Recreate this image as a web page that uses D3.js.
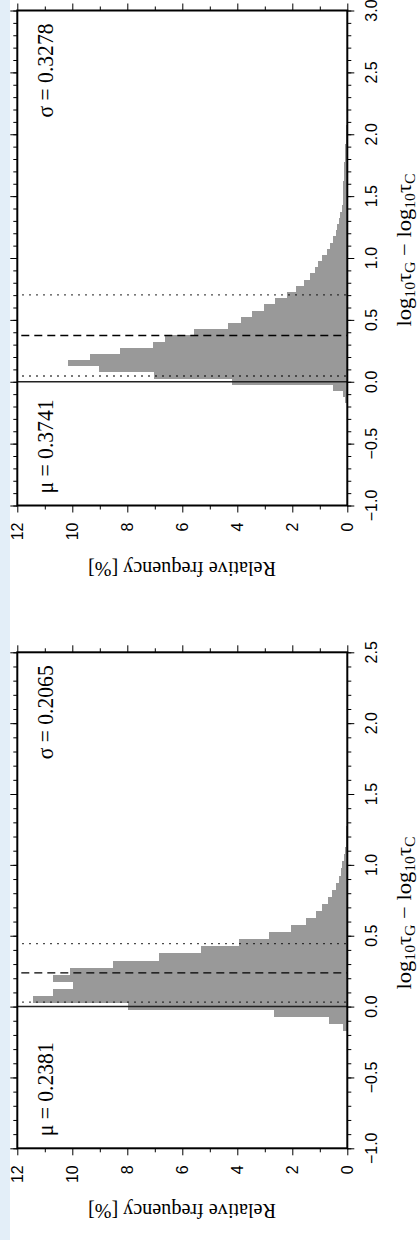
<!DOCTYPE html>
<meta charset="utf-8">
<head>
    <script src="https://cdn.jsdelivr.net/npm/d3@7"></script>
    <style>
        body { margin: 0; background: white; }
    </style>
</head>
<body>
<script type="text/javascript">

    // histogram data, bins 0.05 wide, first bin centred on binStart
    var binWidth = 0.05;

    var binStartTop = -0.15;
    var freqTop = [0.08, 0.15, 0.53, 4.18, 7.02, 9.02, 10.14, 9.36, 8.27, 7.08,
        6.63, 5.57, 4.35, 3.87, 3.48, 3.02, 2.62, 2.18, 1.88, 1.59,
        1.36, 1.17, 1.07, 0.92, 0.75, 0.63, 0.51, 0.42, 0.36, 0.30,
        0.25, 0.20, 0.17, 0.16, 0.15, 0.14, 0.13, 0.12, 0.11, 0.10,
        0.09, 0.08, 0.06, 0.05, 0.03];
    var muTop = 0.3741;
    var sigmaTop = 0.3278;
    var domainTop = [-1, 3];

    var binStartBottom = -0.15;
    var freqBottom = [0.15, 0.65, 2.65, 7.96, 11.42, 10.71, 9.99, 10.71, 10.10, 8.53,
        6.84, 5.32, 3.93, 2.84, 2.03, 1.50, 1.15, 0.91, 0.71, 0.54,
        0.41, 0.31, 0.24, 0.18, 0.12, 0.08, 0.06, 0.04, 0.03, 0.02];
    var muBottom = 0.2381;
    var sigmaBottom = 0.2065;
    var domainBottom = [-1, 2.5];

    var freqDomain = [0, 12];
    var freqMajor = [0, 2, 4, 6, 8, 10, 12];
    var freqMinor = [1, 3, 5, 7, 9, 11];

    var width = 417;
    var height = 1240;
    var sansFont = "'Liberation Sans', Arial, Helvetica, sans-serif";
    var serifFont = "'Liberation Serif', 'Times New Roman', Times, serif";

    var svg = d3.select("body")
        .append("svg")
        .attr("width", width)
        .attr("height", height);

    // light blue strip on the left edge
    svg.append("rect")
        .attr("x", 0)
        .attr("y", 0)
        .attr("width", 10)
        .attr("height", height)
        .attr("fill", "#e3eef8");

    var frameLeft = 17.3;
    var frameRight = 347.3;

    var panels = [
        {top: 10.5, bottom: 505.5, domain: domainTop, start: binStartTop, freq: freqTop,
            mu: muTop, sigma: sigmaTop, labelY: 250},
        {top: 652.3, bottom: 1148.3, domain: domainBottom, start: binStartBottom, freq: freqBottom,
            mu: muBottom, sigma: sigmaBottom, labelY: 913}
    ];

    panels.forEach(drawPanel);

    function drawPanel(p) {
        // log-ratio axis runs bottom -> top, frequency runs right -> left
        var y = d3.scaleLinear().domain(p.domain).range([p.bottom, p.top]);
        var x = d3.scaleLinear().domain(freqDomain).range([frameRight, frameLeft]);

        var g = svg.append("g");

        var bins = p.freq.map(function (f, i) {
            var c = p.start + i * binWidth;
            return {x0: c - binWidth / 2, x1: c + binWidth / 2, f: f};
        });

        // bars
        g.append("g")
            .selectAll("rect")
            .data(bins)
            .enter()
            .append("rect")
            .attr("x", function (d) { return x(d.f); })
            .attr("y", function (d) { return y(d.x1); })
            .attr("width", function (d) { return x(0) - x(d.f); })
            .attr("height", function (d) { return y(d.x0) - y(d.x1); })
            .attr("fill", "#999999")
            .attr("shape-rendering", "crispEdges");

        // zero line
        g.append("line")
            .attr("x1", frameLeft).attr("x2", frameRight)
            .attr("y1", y(0)).attr("y2", y(0))
            .attr("stroke", "#222")
            .attr("stroke-width", 1.5);

        // mean (dashed) and mean +- sigma (dotted)
        g.append("line")
            .attr("x1", frameLeft + 4).attr("x2", frameRight)
            .attr("y1", y(p.mu)).attr("y2", y(p.mu))
            .attr("stroke", "black")
            .attr("stroke-width", 1.4)
            .attr("stroke-dasharray", "8,5");

        [p.mu - p.sigma, p.mu + p.sigma].forEach(function (v) {
            g.append("line")
                .attr("x1", frameLeft + 5).attr("x2", frameRight)
                .attr("y1", y(v)).attr("y2", y(v))
                .attr("stroke", "black")
                .attr("stroke-width", 1.4)
                .attr("stroke-dasharray", "1.4,5.6");
        });

        // ticks on all four sides
        var major = d3.range(p.domain[0], p.domain[1] + 0.001, 0.5);
        var minor = d3.range(p.domain[0], p.domain[1] + 0.001, 0.1);

        g.append("g")
            .attr("transform", "translate(" + frameLeft + ",0)")
            .call(d3.axisLeft(y).tickValues(minor).tickSize(4).tickFormat(""));
        g.append("g")
            .attr("transform", "translate(" + frameLeft + ",0)")
            .call(d3.axisLeft(y).tickValues(major).tickSize(7).tickFormat(""));
        g.append("g")
            .attr("transform", "translate(" + frameRight + ",0)")
            .call(d3.axisRight(y).tickValues(minor).tickSize(4).tickFormat(""));
        g.append("g")
            .attr("transform", "translate(" + frameRight + ",0)")
            .call(d3.axisRight(y).tickValues(major).tickSize(7).tickFormat(""));

        g.append("g")
            .attr("transform", "translate(0," + p.top + ")")
            .call(d3.axisTop(x).tickValues(freqMinor).tickSize(4).tickFormat(""));
        g.append("g")
            .attr("transform", "translate(0," + p.top + ")")
            .call(d3.axisTop(x).tickValues(freqMajor).tickSize(7).tickFormat(""));
        g.append("g")
            .attr("transform", "translate(0," + p.bottom + ")")
            .call(d3.axisBottom(x).tickValues(freqMinor).tickSize(4).tickFormat(""));
        g.append("g")
            .attr("transform", "translate(0," + p.bottom + ")")
            .call(d3.axisBottom(x).tickValues(freqMajor).tickSize(7).tickFormat(""));

        g.selectAll(".domain").remove();
        g.selectAll(".tick line").attr("stroke", "black").attr("stroke-width", 1);

        // frame
        g.append("rect")
            .attr("x", frameLeft)
            .attr("y", p.top)
            .attr("width", frameRight - frameLeft)
            .attr("height", p.bottom - p.top)
            .attr("fill", "none")
            .attr("stroke", "black")
            .attr("stroke-width", 2);

        // tick labels, rotated like the rest of the figure
        var fmt = d3.format(".1f");
        g.selectAll(".ylab")
            .data(major)
            .enter()
            .append("text")
            .attr("font-family", sansFont)
            .attr("font-size", "16px")
            .attr("text-anchor", "middle")
            .attr("transform", function (d) {
                return "translate(377," + y(d) + ") rotate(-90)";
            })
            .text(function (d) { return fmt(d); });

        g.selectAll(".xlab")
            .data(freqMajor)
            .enter()
            .append("text")
            .attr("font-family", sansFont)
            .attr("font-size", "16px")
            .attr("text-anchor", "end")
            .attr("dy", "0.35em")
            .attr("transform", function (d) {
                return "translate(" + x(d) + "," + (p.bottom + 17) + ") rotate(-90)";
            })
            .text(function (d) { return d; });

        // mu / sigma annotations
        g.append("text")
            .attr("font-family", serifFont)
            .attr("font-size", "24px")
            .attr("text-anchor", "start")
            .attr("textLength", 94)
            .attr("lengthAdjust", "spacingAndGlyphs")
            .attr("transform", "translate(53," + (p.bottom - 12) + ") rotate(-90)")
            .text("\u03bc = " + p.mu.toFixed(4));

        g.append("text")
            .attr("font-family", serifFont)
            .attr("font-size", "24px")
            .attr("text-anchor", "end")
            .attr("textLength", 94)
            .attr("lengthAdjust", "spacingAndGlyphs")
            .attr("transform", "translate(53," + (p.top + 13) + ") rotate(-90)")
            .text("\u03c3 = " + p.sigma.toFixed(4));

        // axis titles
        g.append("text")
            .attr("font-family", serifFont)
            .attr("font-size", "20px")
            .attr("text-anchor", "middle")
            .attr("textLength", 188)
            .attr("lengthAdjust", "spacingAndGlyphs")
            .attr("transform", "translate(182," + (p.bottom + 56) + ") rotate(180)")
            .text("Relative frequency [%]");

        var xl = g.append("text")
            .attr("font-family", serifFont)
            .attr("font-size", "20px")
            .attr("text-anchor", "middle")
            .attr("textLength", 153)
            .attr("lengthAdjust", "spacingAndGlyphs")
            .attr("transform", "translate(411," + p.labelY + ") rotate(-90)");
        var parts = [["log", false], ["10", true], ["\u03c4", false], ["G", true],
            [" \u2212 log", false], ["10", true], ["\u03c4", false], ["C", true]];
        parts.forEach(function (pt, i) {
            xl.append("tspan")
                .attr("font-size", pt[1] ? "14px" : "20px")
                .attr("dy", pt[1] ? 4 : (i === 0 ? 0 : -4))
                .text(pt[0]);
        });
    }

</script>
</body>
</html>
